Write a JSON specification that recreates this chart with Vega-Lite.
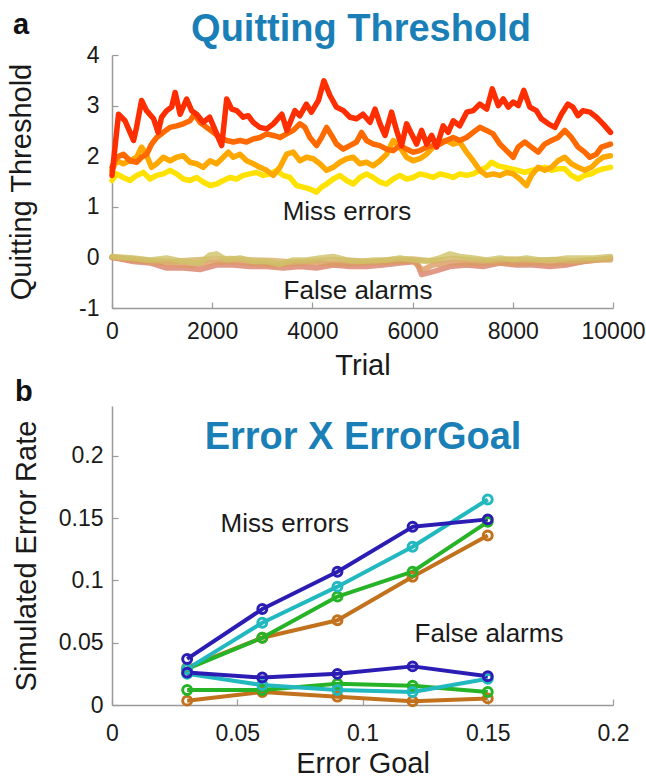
{
"$schema": "https://vega.github.io/schema/vega-lite/v6.json",
"background": "white",
"padding": {"left": 7, "top": 10, "right": 0, "bottom": 0},
"spacing": -2,
"resolve": {"scale": {"color": "independent"}},
"config": {"view": {"stroke": null}, "font": "Liberation Sans",
 "axis": {"grid": false, "domainColor": "#9a9a9a", "tickColor": "#9a9a9a", "domainWidth": 1.5, "tickWidth": 1.2, "labelFont": "Liberation Sans", "labelFontSize": 23, "labelColor": "#1a1a1a", "titleFont": "Liberation Sans", "titleFontSize": 29, "titleFontWeight": "normal", "titleColor": "#1a1a1a", "labelFlush": false, "labelOverlap": false}},
"datasets": {
 "miss": [
  {"t":0,"v":1.52,"s":"y"},{"t":93,"v":1.65,"s":"y"},{"t":226,"v":1.58,"s":"y"},{"t":359,"v":1.52,"s":"y"},{"t":492,"v":1.62,"s":"y"},{"t":625,"v":1.68,"s":"y"},{"t":758,"v":1.55,"s":"y"},{"t":891,"v":1.62,"s":"y"},{"t":1024,"v":1.65,"s":"y"},{"t":1157,"v":1.72,"s":"y"},{"t":1290,"v":1.65,"s":"y"},{"t":1423,"v":1.55,"s":"y"},{"t":1556,"v":1.52,"s":"y"},{"t":1689,"v":1.58,"s":"y"},{"t":1822,"v":1.49,"s":"y"},{"t":1955,"v":1.42,"s":"y"},{"t":2088,"v":1.45,"s":"y"},{"t":2221,"v":1.52,"s":"y"},{"t":2354,"v":1.58,"s":"y"},{"t":2487,"v":1.55,"s":"y"},{"t":2620,"v":1.62,"s":"y"},{"t":2753,"v":1.65,"s":"y"},{"t":2886,"v":1.68,"s":"y"},{"t":3019,"v":1.62,"s":"y"},{"t":3152,"v":1.65,"s":"y"},{"t":3285,"v":1.72,"s":"y"},{"t":3418,"v":1.62,"s":"y"},{"t":3551,"v":1.58,"s":"y"},{"t":3684,"v":1.42,"s":"y"},{"t":3817,"v":1.39,"s":"y"},{"t":3950,"v":1.35,"s":"y"},{"t":4083,"v":1.29,"s":"y"},{"t":4183,"v":1.39,"s":"y"},{"t":4283,"v":1.45,"s":"y"},{"t":4416,"v":1.55,"s":"y"},{"t":4549,"v":1.62,"s":"y"},{"t":4682,"v":1.52,"s":"y"},{"t":4815,"v":1.45,"s":"y"},{"t":4948,"v":1.58,"s":"y"},{"t":5081,"v":1.65,"s":"y"},{"t":5214,"v":1.58,"s":"y"},{"t":5347,"v":1.49,"s":"y"},{"t":5480,"v":1.45,"s":"y"},{"t":5613,"v":1.55,"s":"y"},{"t":5746,"v":1.62,"s":"y"},{"t":5879,"v":1.55,"s":"y"},{"t":6012,"v":1.58,"s":"y"},{"t":6145,"v":1.65,"s":"y"},{"t":6278,"v":1.62,"s":"y"},{"t":6411,"v":1.58,"s":"y"},{"t":6544,"v":1.65,"s":"y"},{"t":6677,"v":1.62,"s":"y"},{"t":6810,"v":1.58,"s":"y"},{"t":6943,"v":1.65,"s":"y"},{"t":7076,"v":1.62,"s":"y"},{"t":7209,"v":1.65,"s":"y"},{"t":7342,"v":1.72,"s":"y"},{"t":7475,"v":1.78,"s":"y"},{"t":7575,"v":1.88,"s":"y"},{"t":7708,"v":1.81,"s":"y"},{"t":7841,"v":1.78,"s":"y"},{"t":7974,"v":1.75,"s":"y"},{"t":8106,"v":1.72,"s":"y"},{"t":8239,"v":1.68,"s":"y"},{"t":8372,"v":1.72,"s":"y"},{"t":8505,"v":1.75,"s":"y"},{"t":8638,"v":1.78,"s":"y"},{"t":8771,"v":1.72,"s":"y"},{"t":8904,"v":1.75,"s":"y"},{"t":9037,"v":1.75,"s":"y"},{"t":9170,"v":1.62,"s":"y"},{"t":9303,"v":1.55,"s":"y"},{"t":9436,"v":1.62,"s":"y"},{"t":9569,"v":1.65,"s":"y"},{"t":9702,"v":1.72,"s":"y"},{"t":9802,"v":1.75,"s":"y"},{"t":9950,"v":1.78,"s":"y"},
  {"t":0,"v":1.72,"s":"o"},{"t":93,"v":1.91,"s":"o"},{"t":226,"v":1.85,"s":"o"},{"t":359,"v":1.91,"s":"o"},{"t":492,"v":1.98,"s":"o"},{"t":592,"v":2.18,"s":"o"},{"t":692,"v":2.01,"s":"o"},{"t":791,"v":1.78,"s":"o"},{"t":891,"v":1.85,"s":"o"},{"t":1024,"v":1.98,"s":"o"},{"t":1157,"v":1.91,"s":"o"},{"t":1290,"v":1.98,"s":"o"},{"t":1423,"v":2.01,"s":"o"},{"t":1556,"v":1.88,"s":"o"},{"t":1689,"v":1.85,"s":"o"},{"t":1822,"v":1.78,"s":"o"},{"t":1955,"v":1.91,"s":"o"},{"t":2088,"v":1.85,"s":"o"},{"t":2221,"v":1.98,"s":"o"},{"t":2321,"v":2.08,"s":"o"},{"t":2421,"v":1.98,"s":"o"},{"t":2554,"v":2.04,"s":"o"},{"t":2687,"v":1.91,"s":"o"},{"t":2820,"v":1.85,"s":"o"},{"t":2953,"v":1.78,"s":"o"},{"t":3086,"v":1.72,"s":"o"},{"t":3219,"v":1.62,"s":"o"},{"t":3352,"v":1.78,"s":"o"},{"t":3485,"v":2.04,"s":"o"},{"t":3618,"v":2.08,"s":"o"},{"t":3751,"v":1.91,"s":"o"},{"t":3884,"v":1.98,"s":"o"},{"t":4017,"v":1.95,"s":"o"},{"t":4150,"v":1.85,"s":"o"},{"t":4283,"v":1.72,"s":"o"},{"t":4416,"v":1.78,"s":"o"},{"t":4549,"v":1.88,"s":"o"},{"t":4682,"v":1.95,"s":"o"},{"t":4815,"v":1.98,"s":"o"},{"t":4948,"v":1.85,"s":"o"},{"t":5081,"v":1.88,"s":"o"},{"t":5214,"v":1.81,"s":"o"},{"t":5347,"v":1.91,"s":"o"},{"t":5480,"v":2.04,"s":"o"},{"t":5613,"v":2.31,"s":"o"},{"t":5746,"v":2.18,"s":"o"},{"t":5879,"v":1.98,"s":"o"},{"t":6012,"v":1.91,"s":"o"},{"t":6145,"v":1.95,"s":"o"},{"t":6278,"v":2.04,"s":"o"},{"t":6411,"v":2.18,"s":"o"},{"t":6544,"v":2.28,"s":"o"},{"t":6677,"v":2.31,"s":"o"},{"t":6810,"v":2.24,"s":"o"},{"t":6943,"v":2.28,"s":"o"},{"t":7076,"v":2.08,"s":"o"},{"t":7209,"v":1.91,"s":"o"},{"t":7342,"v":1.72,"s":"o"},{"t":7475,"v":1.62,"s":"o"},{"t":7608,"v":1.65,"s":"o"},{"t":7741,"v":1.62,"s":"o"},{"t":7874,"v":1.68,"s":"o"},{"t":8007,"v":1.65,"s":"o"},{"t":8140,"v":1.55,"s":"o"},{"t":8273,"v":1.42,"s":"o"},{"t":8372,"v":1.62,"s":"o"},{"t":8505,"v":1.78,"s":"o"},{"t":8638,"v":1.72,"s":"o"},{"t":8771,"v":1.78,"s":"o"},{"t":8904,"v":1.91,"s":"o"},{"t":9037,"v":1.98,"s":"o"},{"t":9170,"v":1.85,"s":"o"},{"t":9303,"v":1.78,"s":"o"},{"t":9436,"v":1.72,"s":"o"},{"t":9569,"v":1.78,"s":"o"},{"t":9702,"v":1.91,"s":"o"},{"t":9802,"v":1.98,"s":"o"},{"t":9950,"v":2.01,"s":"o"},
  {"t":0,"v":1.78,"s":"do"},{"t":93,"v":1.98,"s":"do"},{"t":226,"v":2.04,"s":"do"},{"t":359,"v":1.91,"s":"do"},{"t":492,"v":1.88,"s":"do"},{"t":592,"v":1.98,"s":"do"},{"t":692,"v":2.04,"s":"do"},{"t":791,"v":2.24,"s":"do"},{"t":891,"v":2.37,"s":"do"},{"t":1024,"v":2.47,"s":"do"},{"t":1157,"v":2.57,"s":"do"},{"t":1290,"v":2.6,"s":"do"},{"t":1423,"v":2.64,"s":"do"},{"t":1556,"v":2.7,"s":"do"},{"t":1643,"v":2.83,"s":"do"},{"t":1756,"v":2.67,"s":"do"},{"t":1889,"v":2.57,"s":"do"},{"t":2022,"v":2.47,"s":"do"},{"t":2155,"v":2.37,"s":"do"},{"t":2288,"v":2.31,"s":"do"},{"t":2421,"v":2.28,"s":"do"},{"t":2554,"v":2.31,"s":"do"},{"t":2687,"v":2.28,"s":"do"},{"t":2820,"v":2.34,"s":"do"},{"t":2953,"v":2.37,"s":"do"},{"t":3086,"v":2.44,"s":"do"},{"t":3219,"v":2.41,"s":"do"},{"t":3352,"v":2.37,"s":"do"},{"t":3485,"v":2.44,"s":"do"},{"t":3618,"v":2.51,"s":"do"},{"t":3751,"v":2.64,"s":"do"},{"t":3850,"v":2.57,"s":"do"},{"t":3950,"v":2.37,"s":"do"},{"t":4083,"v":2.21,"s":"do"},{"t":4183,"v":2.37,"s":"do"},{"t":4283,"v":2.57,"s":"do"},{"t":4382,"v":2.41,"s":"do"},{"t":4482,"v":2.24,"s":"do"},{"t":4615,"v":2.14,"s":"do"},{"t":4748,"v":2.21,"s":"do"},{"t":4881,"v":2.28,"s":"do"},{"t":4981,"v":2.47,"s":"do"},{"t":5081,"v":2.31,"s":"do"},{"t":5214,"v":2.24,"s":"do"},{"t":5347,"v":2.21,"s":"do"},{"t":5480,"v":2.14,"s":"do"},{"t":5613,"v":2.11,"s":"do"},{"t":5746,"v":2.21,"s":"do"},{"t":5879,"v":2.14,"s":"do"},{"t":6012,"v":2.08,"s":"do"},{"t":6145,"v":2.11,"s":"do"},{"t":6278,"v":2.18,"s":"do"},{"t":6411,"v":2.21,"s":"do"},{"t":6544,"v":2.24,"s":"do"},{"t":6677,"v":2.31,"s":"do"},{"t":6810,"v":2.37,"s":"do"},{"t":6943,"v":2.31,"s":"do"},{"t":7076,"v":2.37,"s":"do"},{"t":7209,"v":2.47,"s":"do"},{"t":7342,"v":2.57,"s":"do"},{"t":7475,"v":2.51,"s":"do"},{"t":7608,"v":2.44,"s":"do"},{"t":7741,"v":2.24,"s":"do"},{"t":7874,"v":2.11,"s":"do"},{"t":8007,"v":1.98,"s":"do"},{"t":8106,"v":2.18,"s":"do"},{"t":8239,"v":2.28,"s":"do"},{"t":8372,"v":2.18,"s":"do"},{"t":8505,"v":2.08,"s":"do"},{"t":8638,"v":2.24,"s":"do"},{"t":8771,"v":2.31,"s":"do"},{"t":8904,"v":2.37,"s":"do"},{"t":9037,"v":2.51,"s":"do"},{"t":9170,"v":2.37,"s":"do"},{"t":9303,"v":2.18,"s":"do"},{"t":9436,"v":2.08,"s":"do"},{"t":9536,"v":1.98,"s":"do"},{"t":9669,"v":2.04,"s":"do"},{"t":9769,"v":2.18,"s":"do"},{"t":9950,"v":2.24,"s":"do"},
  {"t":0,"v":1.62,"s":"r"},{"t":130,"v":2.83,"s":"r"},{"t":260,"v":2.7,"s":"r"},{"t":360,"v":2.47,"s":"r"},{"t":430,"v":2.31,"s":"r"},{"t":490,"v":2.57,"s":"r"},{"t":590,"v":3.1,"s":"r"},{"t":690,"v":2.9,"s":"r"},{"t":830,"v":2.74,"s":"r"},{"t":920,"v":2.47,"s":"r"},{"t":990,"v":2.77,"s":"r"},{"t":1090,"v":2.9,"s":"r"},{"t":1190,"v":2.97,"s":"r"},{"t":1260,"v":3.26,"s":"r"},{"t":1360,"v":2.83,"s":"r"},{"t":1490,"v":3.13,"s":"r"},{"t":1590,"v":2.9,"s":"r"},{"t":1690,"v":2.83,"s":"r"},{"t":1820,"v":2.67,"s":"r"},{"t":1950,"v":2.77,"s":"r"},{"t":2090,"v":2.44,"s":"r"},{"t":2190,"v":2.21,"s":"r"},{"t":2290,"v":3.13,"s":"r"},{"t":2390,"v":2.93,"s":"r"},{"t":2490,"v":2.9,"s":"r"},{"t":2620,"v":2.77,"s":"r"},{"t":2720,"v":2.8,"s":"r"},{"t":2820,"v":2.67,"s":"r"},{"t":2950,"v":2.57,"s":"r"},{"t":3090,"v":2.54,"s":"r"},{"t":3220,"v":2.64,"s":"r"},{"t":3390,"v":2.83,"s":"r"},{"t":3490,"v":2.51,"s":"r"},{"t":3650,"v":2.9,"s":"r"},{"t":3750,"v":2.8,"s":"r"},{"t":3880,"v":3.03,"s":"r"},{"t":3980,"v":2.87,"s":"r"},{"t":4120,"v":3.1,"s":"r"},{"t":4230,"v":3.49,"s":"r"},{"t":4350,"v":3.2,"s":"r"},{"t":4480,"v":2.97,"s":"r"},{"t":4620,"v":2.9,"s":"r"},{"t":4750,"v":2.77,"s":"r"},{"t":4880,"v":2.74,"s":"r"},{"t":5010,"v":2.83,"s":"r"},{"t":5150,"v":2.67,"s":"r"},{"t":5250,"v":2.93,"s":"r"},{"t":5350,"v":2.64,"s":"r"},{"t":5450,"v":2.41,"s":"r"},{"t":5580,"v":2.87,"s":"r"},{"t":5680,"v":2.51,"s":"r"},{"t":5780,"v":2.21,"s":"r"},{"t":5880,"v":2.64,"s":"r"},{"t":5980,"v":2.44,"s":"r"},{"t":6080,"v":2.24,"s":"r"},{"t":6180,"v":2.51,"s":"r"},{"t":6280,"v":2.24,"s":"r"},{"t":6380,"v":2.41,"s":"r"},{"t":6480,"v":2.18,"s":"r"},{"t":6610,"v":2.6,"s":"r"},{"t":6710,"v":2.47,"s":"r"},{"t":6810,"v":2.7,"s":"r"},{"t":6940,"v":2.6,"s":"r"},{"t":7080,"v":2.87,"s":"r"},{"t":7210,"v":2.9,"s":"r"},{"t":7340,"v":3.03,"s":"r"},{"t":7480,"v":2.93,"s":"r"},{"t":7590,"v":3.33,"s":"r"},{"t":7710,"v":3.0,"s":"r"},{"t":7810,"v":3.13,"s":"r"},{"t":7910,"v":2.97,"s":"r"},{"t":8010,"v":3.07,"s":"r"},{"t":8110,"v":3.0,"s":"r"},{"t":8220,"v":3.3,"s":"r"},{"t":8340,"v":2.97,"s":"r"},{"t":8470,"v":2.9,"s":"r"},{"t":8570,"v":2.74,"s":"r"},{"t":8710,"v":2.64,"s":"r"},{"t":8840,"v":2.57,"s":"r"},{"t":8970,"v":2.83,"s":"r"},{"t":9100,"v":3.03,"s":"r"},{"t":9200,"v":2.97,"s":"r"},{"t":9300,"v":2.8,"s":"r"},{"t":9400,"v":2.9,"s":"r"},{"t":9540,"v":2.87,"s":"r"},{"t":9670,"v":2.77,"s":"r"},{"t":9800,"v":2.64,"s":"r"},{"t":9950,"v":2.47,"s":"r"}
 ],
 "fa": [
  {"t":0,"v":0.0,"s":"fr"},{"t":426,"v":-0.08,"s":"fr"},{"t":758,"v":-0.11,"s":"fr"},{"t":1091,"v":-0.21,"s":"fr"},{"t":1423,"v":-0.21,"s":"fr"},{"t":1756,"v":-0.24,"s":"fr"},{"t":2088,"v":-0.15,"s":"fr"},{"t":2421,"v":-0.15,"s":"fr"},{"t":2753,"v":-0.18,"s":"fr"},{"t":3086,"v":-0.18,"s":"fr"},{"t":3418,"v":-0.21,"s":"fr"},{"t":3751,"v":-0.18,"s":"fr"},{"t":4083,"v":-0.21,"s":"fr"},{"t":4416,"v":-0.15,"s":"fr"},{"t":4748,"v":-0.18,"s":"fr"},{"t":5081,"v":-0.18,"s":"fr"},{"t":5413,"v":-0.15,"s":"fr"},{"t":5746,"v":-0.11,"s":"fr"},{"t":6078,"v":-0.08,"s":"fr"},{"t":6178,"v":-0.34,"s":"fr"},{"t":6411,"v":-0.28,"s":"fr"},{"t":6744,"v":-0.18,"s":"fr"},{"t":7076,"v":-0.15,"s":"fr"},{"t":7409,"v":-0.18,"s":"fr"},{"t":7741,"v":-0.11,"s":"fr"},{"t":8073,"v":-0.15,"s":"fr"},{"t":8406,"v":-0.15,"s":"fr"},{"t":8738,"v":-0.18,"s":"fr"},{"t":9071,"v":-0.15,"s":"fr"},{"t":9403,"v":-0.08,"s":"fr"},{"t":9950,"v":-0.01,"s":"fr"},
  {"t":0,"v":0.0,"s":"fo"},{"t":400,"v":-0.05,"s":"fo"},{"t":800,"v":-0.09,"s":"fo"},{"t":1200,"v":-0.13,"s":"fo"},{"t":1600,"v":-0.16,"s":"fo"},{"t":2000,"v":-0.1,"s":"fo"},{"t":2400,"v":-0.08,"s":"fo"},{"t":2800,"v":-0.12,"s":"fo"},{"t":3200,"v":-0.15,"s":"fo"},{"t":3600,"v":-0.12,"s":"fo"},{"t":4000,"v":-0.1,"s":"fo"},{"t":4400,"v":-0.13,"s":"fo"},{"t":4800,"v":-0.12,"s":"fo"},{"t":5200,"v":-0.1,"s":"fo"},{"t":5600,"v":-0.09,"s":"fo"},{"t":6000,"v":-0.06,"s":"fo"},{"t":6200,"v":-0.25,"s":"fo"},{"t":6400,"v":-0.15,"s":"fo"},{"t":6800,"v":-0.1,"s":"fo"},{"t":7200,"v":-0.12,"s":"fo"},{"t":7600,"v":-0.1,"s":"fo"},{"t":8000,"v":-0.13,"s":"fo"},{"t":8400,"v":-0.1,"s":"fo"},{"t":8800,"v":-0.12,"s":"fo"},{"t":9200,"v":-0.1,"s":"fo"},{"t":9600,"v":-0.06,"s":"fo"},{"t":9950,"v":-0.03,"s":"fo"},
  {"t":0,"v":0.01,"s":"ft"},{"t":400,"v":-0.02,"s":"ft"},{"t":800,"v":-0.06,"s":"ft"},{"t":1200,"v":-0.08,"s":"ft"},{"t":1600,"v":-0.05,"s":"ft"},{"t":2000,"v":-0.03,"s":"ft"},{"t":2400,"v":-0.02,"s":"ft"},{"t":2800,"v":-0.05,"s":"ft"},{"t":3200,"v":-0.06,"s":"ft"},{"t":3600,"v":-0.09,"s":"ft"},{"t":4000,"v":-0.07,"s":"ft"},{"t":4400,"v":-0.04,"s":"ft"},{"t":4800,"v":-0.06,"s":"ft"},{"t":5200,"v":-0.08,"s":"ft"},{"t":5600,"v":-0.04,"s":"ft"},{"t":6000,"v":-0.03,"s":"ft"},{"t":6400,"v":-0.07,"s":"ft"},{"t":6800,"v":-0.02,"s":"ft"},{"t":7200,"v":-0.05,"s":"ft"},{"t":7600,"v":-0.07,"s":"ft"},{"t":8000,"v":-0.03,"s":"ft"},{"t":8400,"v":-0.06,"s":"ft"},{"t":8800,"v":-0.04,"s":"ft"},{"t":9200,"v":-0.07,"s":"ft"},{"t":9600,"v":-0.04,"s":"ft"},{"t":9950,"v":-0.05,"s":"ft"},
  {"t":0,"v":0.02,"s":"fy"},{"t":426,"v":-0.01,"s":"fy"},{"t":758,"v":-0.05,"s":"fy"},{"t":1091,"v":-0.01,"s":"fy"},{"t":1423,"v":-0.08,"s":"fy"},{"t":1756,"v":-0.11,"s":"fy"},{"t":1955,"v":0.05,"s":"fy"},{"t":2088,"v":0.07,"s":"fy"},{"t":2288,"v":-0.05,"s":"fy"},{"t":2554,"v":-0.01,"s":"fy"},{"t":2820,"v":-0.08,"s":"fy"},{"t":3086,"v":-0.08,"s":"fy"},{"t":3352,"v":-0.14,"s":"fy"},{"t":3618,"v":-0.05,"s":"fy"},{"t":3884,"v":-0.05,"s":"fy"},{"t":4150,"v":-0.01,"s":"fy"},{"t":4416,"v":0.02,"s":"fy"},{"t":4682,"v":-0.05,"s":"fy"},{"t":4948,"v":-0.08,"s":"fy"},{"t":5214,"v":-0.05,"s":"fy"},{"t":5480,"v":-0.05,"s":"fy"},{"t":5746,"v":-0.01,"s":"fy"},{"t":6012,"v":-0.05,"s":"fy"},{"t":6278,"v":-0.08,"s":"fy"},{"t":6544,"v":-0.01,"s":"fy"},{"t":6744,"v":0.07,"s":"fy"},{"t":6943,"v":0.02,"s":"fy"},{"t":7209,"v":-0.01,"s":"fy"},{"t":7475,"v":-0.05,"s":"fy"},{"t":7741,"v":-0.01,"s":"fy"},{"t":8007,"v":-0.05,"s":"fy"},{"t":8273,"v":-0.01,"s":"fy"},{"t":8539,"v":-0.05,"s":"fy"},{"t":8805,"v":-0.05,"s":"fy"},{"t":9071,"v":-0.01,"s":"fy"},{"t":9337,"v":-0.01,"s":"fy"},{"t":9602,"v":-0.01,"s":"fy"},{"t":9950,"v":0.02,"s":"fy"}
 ],
 "annA": [
  {"t":4690,"v":0.9,"label":"Miss errors"},
  {"t":4910,"v":-0.66,"label":"False alarms"}
 ],
 "titleA": [{"t":4970,"v":4.277,"label":"Quitting Threshold"}],
 "tagA": [{"t":-1976,"v":4.415,"label":"a"}],
 "err": [
  {"goal":0.03,"rate":0.030,"model":"brown","type":"miss"},{"goal":0.06,"rate":0.054,"model":"brown","type":"miss"},{"goal":0.09,"rate":0.068,"model":"brown","type":"miss"},{"goal":0.12,"rate":0.103,"model":"brown","type":"miss"},{"goal":0.15,"rate":0.136,"model":"brown","type":"miss"},
  {"goal":0.03,"rate":0.0035,"model":"brown","type":"fa"},{"goal":0.06,"rate":0.0105,"model":"brown","type":"fa"},{"goal":0.09,"rate":0.0067,"model":"brown","type":"fa"},{"goal":0.12,"rate":0.003,"model":"brown","type":"fa"},{"goal":0.15,"rate":0.0053,"model":"brown","type":"fa"},
  {"goal":0.03,"rate":0.029,"model":"green","type":"miss"},{"goal":0.06,"rate":0.054,"model":"green","type":"miss"},{"goal":0.09,"rate":0.087,"model":"green","type":"miss"},{"goal":0.12,"rate":0.107,"model":"green","type":"miss"},{"goal":0.15,"rate":0.147,"model":"green","type":"miss"},
  {"goal":0.03,"rate":0.012,"model":"green","type":"fa"},{"goal":0.06,"rate":0.012,"model":"green","type":"fa"},{"goal":0.09,"rate":0.017,"model":"green","type":"fa"},{"goal":0.12,"rate":0.0155,"model":"green","type":"fa"},{"goal":0.15,"rate":0.0105,"model":"green","type":"fa"},
  {"goal":0.03,"rate":0.029,"model":"cyan","type":"miss"},{"goal":0.06,"rate":0.066,"model":"cyan","type":"miss"},{"goal":0.09,"rate":0.095,"model":"cyan","type":"miss"},{"goal":0.12,"rate":0.127,"model":"cyan","type":"miss"},{"goal":0.15,"rate":0.165,"model":"cyan","type":"miss"},
  {"goal":0.03,"rate":0.025,"model":"cyan","type":"fa"},{"goal":0.06,"rate":0.016,"model":"cyan","type":"fa"},{"goal":0.09,"rate":0.012,"model":"cyan","type":"fa"},{"goal":0.12,"rate":0.0105,"model":"cyan","type":"fa"},{"goal":0.15,"rate":0.021,"model":"cyan","type":"fa"},
  {"goal":0.03,"rate":0.037,"model":"blue","type":"miss"},{"goal":0.06,"rate":0.077,"model":"blue","type":"miss"},{"goal":0.09,"rate":0.107,"model":"blue","type":"miss"},{"goal":0.12,"rate":0.143,"model":"blue","type":"miss"},{"goal":0.15,"rate":0.149,"model":"blue","type":"miss"},
  {"goal":0.03,"rate":0.026,"model":"blue","type":"fa"},{"goal":0.06,"rate":0.022,"model":"blue","type":"fa"},{"goal":0.09,"rate":0.025,"model":"blue","type":"fa"},{"goal":0.12,"rate":0.031,"model":"blue","type":"fa"},{"goal":0.15,"rate":0.023,"model":"blue","type":"fa"}
 ],
 "annB": [
  {"goal":0.069,"rate":0.1456,"label":"Miss errors"},
  {"goal":0.1505,"rate":0.0568,"label":"False alarms"}
 ],
 "titleB": [{"goal":0.1002,"rate":0.2056,"label":"Error X ErrorGoal"}],
 "tagB": [{"goal":-0.0387,"rate":0.244,"label":"b"}]
},
"vconcat": [
 {
  "width": 501, "height": 253,
  "encoding": {
   "x": {"field": "t", "type": "quantitative", "scale": {"domain": [0, 10000], "nice": false, "zero": false}, "title": "Trial",
         "axis": {"values": [0, 2000, 4000, 6000, 8000, 10000], "labelExpr": "'' + datum.value", "tickSize": -6, "labelPadding": 18, "titlePadding": 8}},
   "y": {"field": "v", "type": "quantitative", "scale": {"domain": [-1, 4], "nice": false, "zero": false}, "title": "Quitting Threshold",
         "axis": {"values": [-1, 0, 1, 2, 3, 4], "labelExpr": "'' + datum.value", "tickSize": -6, "labelPadding": 19, "titlePadding": 42}}
  },
  "layer": [
   {"data": {"name": "fa"}, "mark": {"type": "line", "strokeWidth": 5.5, "opacity": 0.8, "strokeJoin": "round", "strokeCap": "round"},
    "encoding": {"color": {"field": "s", "type": "nominal", "legend": null,
      "scale": {"domain": ["fr", "fo", "ft", "fy", "y", "o", "do", "r"], "range": ["#d9806a", "#dc9a62", "#d6b066", "#cec266", "#ffe200", "#ffa800", "#ff6a00", "#ff2e00"]}}}},
   {"data": {"name": "miss"}, "mark": {"type": "line", "strokeWidth": 5.5, "strokeJoin": "round", "strokeCap": "round"},
    "encoding": {"color": {"field": "s", "type": "nominal", "legend": null,
      "scale": {"domain": ["fr", "fo", "ft", "fy", "y", "o", "do", "r"], "range": ["#d9806a", "#dc9a62", "#d6b066", "#cec266", "#ffe200", "#ffa800", "#ff6a00", "#ff2e00"]}}}},
   {"data": {"name": "annA"}, "mark": {"type": "text", "font": "Liberation Sans", "fontSize": 26, "color": "#1a1a1a", "align": "center", "baseline": "middle"},
    "encoding": {"text": {"field": "label"}}},
   {"data": {"name": "titleA"}, "mark": {"type": "text", "font": "Liberation Sans", "fontSize": 38, "fontWeight": "bold", "color": "#1a7fb6", "align": "center", "baseline": "alphabetic"},
    "encoding": {"text": {"field": "label"}}},
   {"data": {"name": "tagA"}, "mark": {"type": "text", "font": "Liberation Sans", "fontSize": 29, "fontWeight": "bold", "color": "#111111", "align": "left", "baseline": "alphabetic"},
    "encoding": {"text": {"field": "label"}}}
  ]
 },
 {
  "width": 501, "height": 299,
  "encoding": {
   "x": {"field": "goal", "type": "quantitative", "scale": {"domain": [0, 0.2], "nice": false, "zero": false}, "title": "Error Goal",
         "axis": {"values": [0, 0.05, 0.1, 0.15, 0.2], "labelExpr": "'' + datum.value", "tickSize": -6, "labelPadding": 23, "titlePadding": 4}},
   "y": {"field": "rate", "type": "quantitative", "scale": {"domain": [0, 0.24], "nice": false, "zero": false}, "title": "Simulated Error Rate",
         "axis": {"values": [0, 0.05, 0.1, 0.15, 0.2], "labelExpr": "'' + datum.value", "tickSize": -6, "labelPadding": 15, "titlePadding": 17}}
  },
  "layer": [
   {"data": {"name": "err"}, "mark": {"type": "line", "strokeWidth": 4, "strokeJoin": "round", "point": {"filled": false, "size": 80, "strokeWidth": 3}},
    "encoding": {"color": {"field": "model", "type": "nominal", "legend": null,
      "scale": {"domain": ["brown", "green", "cyan", "blue"], "range": ["#c2711c", "#27b327", "#22b8bf", "#2b1db3"]}},
      "detail": {"field": "type"}}},
   {"data": {"name": "annB"}, "mark": {"type": "text", "font": "Liberation Sans", "fontSize": 26, "color": "#1a1a1a", "align": "center", "baseline": "middle"},
    "encoding": {"text": {"field": "label"}}},
   {"data": {"name": "titleB"}, "mark": {"type": "text", "font": "Liberation Sans", "fontSize": 38, "fontWeight": "bold", "color": "#1a7fb6", "align": "center", "baseline": "alphabetic"},
    "encoding": {"text": {"field": "label"}}},
   {"data": {"name": "tagB"}, "mark": {"type": "text", "font": "Liberation Sans", "fontSize": 29, "fontWeight": "bold", "color": "#111111", "align": "left", "baseline": "alphabetic"},
    "encoding": {"text": {"field": "label"}}}
  ]
 }
]
}
